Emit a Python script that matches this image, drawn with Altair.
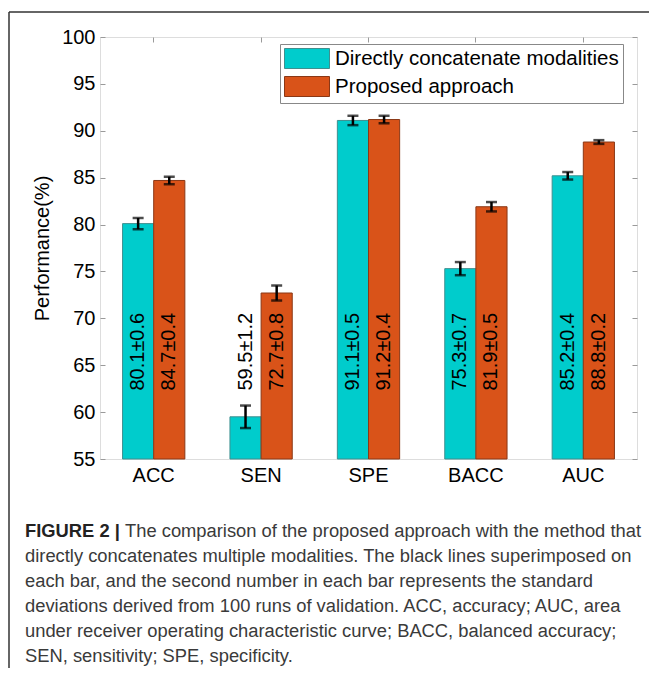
import altair as alt
import pandas as pd

categories = ["ACC", "SEN", "SPE", "BACC", "AUC"]
series = ["Directly concatenate modalities", "Proposed approach"]
direct_mean = [80.1, 59.5, 91.1, 75.3, 85.2]
direct_sd = [0.6, 1.2, 0.5, 0.7, 0.4]
proposed_mean = [84.7, 72.7, 91.2, 81.9, 88.8]
proposed_sd = [0.4, 0.8, 0.4, 0.5, 0.2]
y_ticks = [55, 60, 65, 70, 75, 80, 85, 90, 95, 100]

caption_bold = "FIGURE 2 |"
caption_first = "The comparison of the proposed approach with the method that"
caption_rest = [
    "directly concatenates multiple modalities. The black lines superimposed on",
    "each bar, and the second number in each bar represents the standard",
    "deviations derived from 100 runs of validation. ACC, accuracy; AUC, area",
    "under receiver operating characteristic curve; BACC, balanced accuracy;",
    "SEN, sensitivity; SPE, specificity.",
]

rows = []
for s, means, sds in [(series[0], direct_mean, direct_sd), (series[1], proposed_mean, proposed_sd)]:
    for c, m, sd in zip(categories, means, sds):
        rows.append({"cat": c, "series": s, "value": m, "lo": m - sd, "hi": m + sd,
                     "label": f"{m:.1f}±{sd:.1f}"})
df = pd.DataFrame(rows)

FONT = "Liberation Sans"
GRAY = "#9a9a9a"
W, H = 537, 422

yscale = alt.Scale(domain=[55, 100], nice=False, zero=False)
xscale = alt.Scale(paddingInner=0.42, paddingOuter=0.21)
color = alt.Color("series:N", sort=series,
                  scale=alt.Scale(domain=series, range=["#00CCCC", "#D95319"]),
                  legend=alt.Legend(title=None, orient="none", legendX=180, legendY=7,
                                    symbolType="M-1,-1L3.5,-1L3.5,1L-1,1Z",
                                    symbolSize=400, symbolStrokeColor="#666",
                                    symbolStrokeWidth=1, labelFont=FONT, labelFontSize=20.5,
                                    labelColor="black", labelOffset=30, rowPadding=3,
                                    padding=4, strokeColor="#888", fillColor="white",
                                    labelLimit=400))
stroke = alt.Stroke("series:N", sort=series,
                    scale=alt.Scale(domain=series, range=["#3f8f8f", "#8a3816"]),
                    legend=None)

base = alt.Chart(df)
xoff = alt.XOffset("series:N", sort=series)

bars = base.mark_bar(strokeWidth=1).encode(
    x=alt.X("cat:N", sort=categories, scale=xscale,
            axis=alt.Axis(title=None, orient="bottom", domain=False, ticks=False, tickSize=0,
                          labelPadding=6, labelAngle=0, labelFont=FONT, labelFontSize=20,
                          labelColor="black", labelBaseline="top")),
    xOffset=xoff,
    y=alt.Y("value:Q", scale=yscale,
            axis=alt.Axis(title="Performance(%)", orient="left", values=y_ticks, domain=False,
                          grid=False, tickSize=5, tickColor=GRAY, offset=-5, labelPadding=5,
                          labelFont=FONT, labelFontSize=20, labelColor="black",
                          titleFont=FONT, titleFontSize=20, titleFontWeight="normal",
                          titleColor="black", titlePadding=9)),
    y2=alt.datum(55),
    color=color,
    stroke=stroke,
)

err = base.mark_rule(strokeWidth=2.5, color="black").encode(
    x=alt.X("cat:N", sort=categories, scale=xscale,
            axis=alt.Axis(title=None, orient="top", labels=False, domain=False,
                          tickSize=5, tickColor=GRAY, offset=-5)),
    xOffset=xoff,
    y=alt.Y("lo:Q", scale=yscale,
            axis=alt.Axis(title=None, orient="right", labels=False, values=y_ticks,
                          domain=False, grid=False, tickSize=5, tickColor=GRAY, offset=-5)),
    y2="hi:Q",
)

cap_lo = base.mark_tick(orient="horizontal", size=11, thickness=2.5, color="black").encode(
    x=alt.X("cat:N", sort=categories, scale=xscale, axis=None),
    xOffset=xoff,
    y=alt.Y("lo:Q", scale=yscale, axis=None),
)
cap_hi = base.mark_tick(orient="horizontal", size=11, thickness=2.5, color="black").encode(
    x=alt.X("cat:N", sort=categories, scale=xscale, axis=None),
    xOffset=xoff,
    y=alt.Y("hi:Q", scale=yscale, axis=None),
)

labels = base.mark_text(angle=270, align="left", baseline="middle", font=FONT,
                        fontSize=20, color="black").encode(
    x=alt.X("cat:N", sort=categories, scale=xscale, axis=None),
    xOffset=xoff,
    y=alt.Y(datum=62.3, scale=yscale, axis=None),
    text="label:N",
)

one = alt.Chart(pd.DataFrame({"a": [0]}))
frame_left = one.mark_rule(color="#333", strokeWidth=1.5).encode(
    x=alt.value(-91), y=alt.value(-25), y2=alt.value(700))
frame_top = one.mark_rule(color="#333", strokeWidth=1.5).encode(
    x=alt.value(-91), x2=alt.value(700), y=alt.value(-25))

CFS = 18.35
cap1 = one.mark_text(align="left", baseline="alphabetic", font=FONT, fontSize=CFS,
                     fontWeight="bold", color="#222", text=caption_bold).encode(
    x=alt.value(-75), y=alt.value(500))
cap2 = one.mark_text(align="left", baseline="alphabetic", font=FONT, fontSize=CFS,
                     color="#3a3a3a", text=caption_first).encode(
    x=alt.value(-75 + 100), y=alt.value(500))
cap3 = one.mark_text(align="left", baseline="alphabetic", font=FONT, fontSize=CFS,
                     color="#3a3a3a", text=caption_rest, lineHeight=25).encode(
    x=alt.value(-75), y=alt.value(525))

chart = alt.layer(bars, err, cap_lo, cap_hi, labels, frame_left, frame_top, cap1, cap2, cap3).resolve_scale(
    x="shared", y="shared").resolve_axis(x="independent", y="independent").properties(
    width=W, height=H,
    autosize=alt.AutoSizeParams(type="none"),
    padding={"left": 92, "top": 29, "right": 12, "bottom": 209},
).configure_view(stroke=GRAY, strokeWidth=1).configure(background="white")

chart.save("out.html", embed_options={"renderer": "svg", "actions": False})
